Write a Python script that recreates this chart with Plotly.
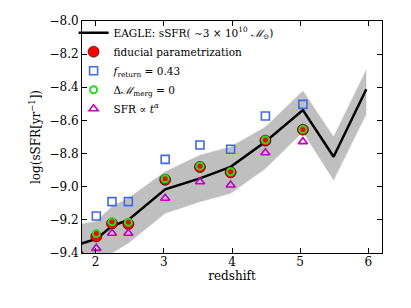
import plotly.graph_objects as go

# EAGLE curve and 1-sigma band
z_eagle = [1.74, 2.01, 2.24, 2.48, 3.02, 3.53, 3.98, 4.49, 5.04, 5.49, 5.97]
eagle_med = [-9.35, -9.315, -9.237, -9.20, -9.016, -8.95, -8.88, -8.728, -8.537, -8.819, -8.412]
eagle_up = [-9.23, -9.21, -9.12, -9.07, -8.91, -8.81, -8.76, -8.64, -8.422, -8.70, -8.295]
eagle_lo = [-9.47, -9.43, -9.40, -9.34, -9.16, -9.09, -9.04, -8.89, -8.668, -8.96, -8.56]

# model points
z_fid = [1.74, 2.01, 2.24, 2.48, 3.02, 3.53, 3.98, 4.49, 5.04]
fiducial = [-9.41, -9.30, -9.222, -9.225, -8.958, -8.881, -8.913, -8.722, -8.656]
z_pts = [2.01, 2.24, 2.48, 3.02, 3.53, 3.98, 4.49, 5.04]
f_return = [-9.177, -9.09, -9.09, -8.835, -8.748, -8.774, -8.573, -8.503]
dm_merg = [-9.283, -9.212, -9.215, -8.952, -8.876, -8.91, -8.718, -8.654]
sfr_t = [-9.372, -9.281, -9.281, -9.07, -8.97, -8.99, -8.795, -8.728]

x_ticks = [2, 3, 4, 5, 6]
y_ticks = [-9.4, -9.2, -9.0, -8.8, -8.6, -8.4, -8.2, -8.0]

SERIF = "DejaVu Serif"

fig = go.Figure()
fig.add_trace(go.Scatter(x=z_eagle, y=eagle_lo, mode="lines",
                         line=dict(color="rgb(190,190,190)", width=0.5),
                         showlegend=False, hoverinfo="skip"))
fig.add_trace(go.Scatter(x=z_eagle, y=eagle_up, mode="lines", fill="tonexty",
                         fillcolor="rgb(191,191,191)",
                         line=dict(color="rgb(190,190,190)", width=0.5),
                         showlegend=False, hoverinfo="skip"))
fig.add_trace(go.Scatter(x=z_eagle, y=eagle_med, mode="lines",
                         line=dict(color="black", width=2.5),
                         name="EAGLE: sSFR( ∼3 × 10<sup>10</sup> <i>ℳ</i><sub>⊙</sub>)"))
fig.add_trace(go.Scatter(x=z_fid, y=fiducial, mode="markers",
                         marker=dict(symbol="circle", size=11, color="#ff0000",
                                     line=dict(color="black", width=0.6)),
                         name="fiducial parametrization"))
fig.add_trace(go.Scatter(x=z_pts, y=f_return, mode="markers",
                         marker=dict(symbol="square-open", size=8, color="#4169e1",
                                     line=dict(color="#4169e1", width=1.6)),
                         name="<i>f</i><sub>return</sub> = 0.43"))
fig.add_trace(go.Scatter(x=z_pts, y=dm_merg, mode="markers",
                         marker=dict(symbol="circle-open", size=7, color="#22dd22",
                                     line=dict(color="#22dd22", width=2)),
                         name="Δ<i>ℳ</i><sub>merg</sub> = 0"))
fig.add_trace(go.Scatter(x=z_pts, y=sfr_t, mode="markers",
                         marker=dict(symbol="triangle-up-open", size=8, color="#bf00bf",
                                     line=dict(color="#bf00bf", width=1.6)),
                         name="SFR ∝ <i>t</i><sup><i>α</i></sup>"))

axis_common = dict(showline=True, linecolor="black", linewidth=1, mirror="allticks",
                   ticks="inside", ticklen=5, tickcolor="black", showgrid=False,
                   zeroline=False, tickfont=dict(family=SERIF, size=12, color="black"))

fig.update_xaxes(range=[1.8, 6.2], tickvals=x_ticks, ticktext=[str(v) for v in x_ticks],
                 ticklabelstandoff=-2,
                 title=dict(text="redshift", font=dict(family=SERIF, size=12, color="black"),
                            standoff=2),
                 **axis_common)
fig.update_yaxes(range=[-9.4, -8.0], tickvals=y_ticks, tickformat=".1f",
                 title=dict(text="log(sSFR[yr<sup>−1</sup>])",
                            font=dict(family=SERIF, size=12, color="black"), standoff=6),
                 **axis_common)

# the page body adds an 8px offset, so the figure is 8px smaller on each axis
fig.update_layout(
    width=403, height=300,
    margin=dict(l=74, r=29, t=13, b=55, autoexpand=False),
    paper_bgcolor="white", plot_bgcolor="white",
    font=dict(family=SERIF, size=12, color="black"),
    legend=dict(x=-0.028, y=1.012, xanchor="left", yanchor="top",
                bgcolor="rgba(0,0,0,0)", borderwidth=0, traceorder="normal",
                font=dict(family=SERIF, size=10.5, color="black"),
                tracegroupgap=0, itemwidth=30),
    showlegend=True,
)

fig.write_html("out.html")
